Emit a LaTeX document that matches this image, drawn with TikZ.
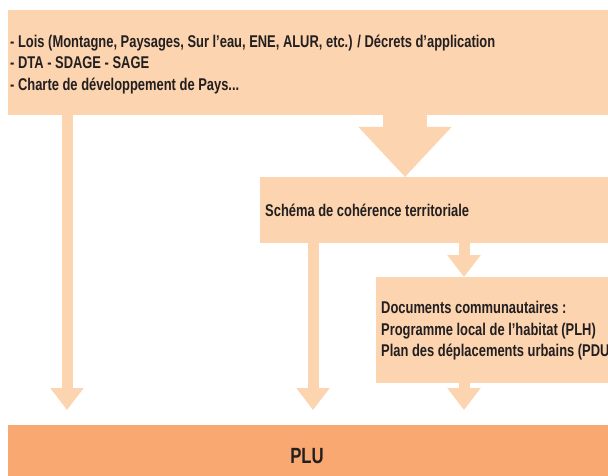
\documentclass[tikz,border=0pt]{standalone}
\usepackage{fontspec}
\setmainfont[FakeStretch=0.76]{Liberation Sans}
\usetikzlibrary{arrows.meta}
\definecolor{peach}{RGB}{252,212,175}
\definecolor{plu}{RGB}{248,168,112}
\definecolor{ink}{RGB}{35,31,32}
\begin{document}
\begin{tikzpicture}[x=1pt,y=-1pt,
  box/.style={fill=peach,draw=none,anchor=north west,inner sep=0pt},
  txt/.style={anchor=west,text=ink,font=\bfseries\fontsize{17}{21.5}\selectfont,align=left,inner sep=0pt},
  thin arrow/.style={draw=peach,line width=11pt,-{Triangle[width=32pt,length=22pt]}},
  big arrow/.style={draw=peach,line width=44pt,-{Triangle[width=90pt,length=50pt]}}]
\useasboundingbox (0,0) rectangle (608,476);
\fill[white] (0,0) rectangle (608,476);
% boxes
\node[box,minimum width=600pt,minimum height=105pt] (top) at (8,10) {};
\node[box,minimum width=348pt,minimum height=66pt] (scot) at (260,177) {};
\node[box,minimum width=232pt,minimum height=106pt] (docs) at (376,277) {};
\node[box,fill=plu,minimum width=600pt,minimum height=51pt] (plu) at (8,425) {};
% texts
\node[txt] (toptxt) at (10,64.5) {- Lois (Montagne, Paysages, Sur l’eau, ENE, ALUR, etc.) / Décrets d’application\\- DTA - SDAGE - SAGE\\- Charte de développement de Pays...};
\node[txt] (scottxt) at (265,210) {Schéma de cohérence territoriale};
\node[txt] (docstxt) at (381,331) {Documents communautaires :\\Programme local de l’habitat (PLH)\\Plan des déplacements urbains (PDU)};
\node[text=ink,font=\bfseries\fontsize{22}{26}\selectfont,inner sep=0pt] (plutxt) at (307,456) {PLU};
% arrows
\coordinate (a1) at (67,0);
\coordinate (a2) at (313,0);
\coordinate (a3) at (464,0);
\coordinate (a4) at (405,0);
\draw[big arrow] (top.south -| a4) -- (scot.north -| a4);
\draw[thin arrow,shorten >=15pt] (top.south -| a1) -- (plu.north -| a1);
\draw[thin arrow,shorten >=15pt] (scot.south -| a2) -- (plu.north -| a2);
\draw[thin arrow] (scot.south -| a3) -- (docs.north -| a3);
\draw[thin arrow,shorten >=15pt] (docs.south -| a3) -- (plu.north -| a3);
\end{tikzpicture}
\end{document}
